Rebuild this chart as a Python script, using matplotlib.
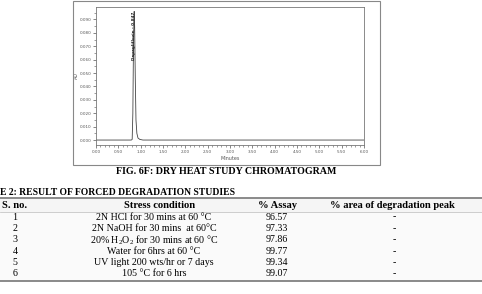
import matplotlib
matplotlib.use("Agg")
import matplotlib.pyplot as plt
from matplotlib.lines import Line2D
from matplotlib.patches import Rectangle
from matplotlib.ticker import MultipleLocator

plt.rcParams['font.family'] = ['Liberation Serif', 'DejaVu Serif']
plt.rcParams['mathtext.fontset'] = 'custom'
plt.rcParams['mathtext.rm'] = 'Liberation Serif'
plt.rcParams['mathtext.it'] = 'Liberation Serif:italic'

# chromatogram trace (minutes, AU)
time_min = [0.0, 0.50, 0.79, 0.81, 0.825, 0.84, 0.855, 0.865, 0.88, 0.895, 0.915, 0.94, 0.98, 1.05, 2.0, 4.0, 6.0]
absorb_au = [0.0, 0.0, 0.0, 0.0005, 0.02, 0.075, 0.096, 0.085, 0.045, 0.015, 0.005, 0.0015, 0.0005, 0.0, 0.0, 0.0, 0.0]
peak_rt = 0.855
peak_label = "Dapagliflozin - 0.847"

# table 2
sno = ["1", "2", "3", "4", "5", "6"]
conditions = ["2N HCl for 30 mins at 60 °C",
              "2N NaOH for 30 mins  at 60°C",
              "20% H$_2$O$_2$ for 30 mins at 60 °C",
              "Water for 6hrs at 60 °C",
              "UV light 200 wts/hr or 7 days",
              "105 °C for 6 hrs"]
assay = ["96.57", "97.33", "97.86", "99.77", "99.34", "99.07"]
degradation = ["-", "-", "-", "-", "-", "-"]
headers = ["S. no.", "Stress condition", "% Assay", "% area of degradation peak"]

W, H = 482, 294
fig = plt.figure(figsize=(W / 100, H / 100), dpi=100)

def fx(px):
    return px / W

def fy(py):
    return 1 - py / H

# outer frame of the figure panel
fig.patches.append(Rectangle((fx(73), fy(165)), fx(380) - fx(73), fy(0.5) - fy(165),
                             transform=fig.transFigure, fill=False, edgecolor='#888888', lw=0.8))

ax = fig.add_axes([fx(96), fy(145), fx(364) - fx(96), fy(7) - fy(145)])
ax.plot(time_min, absorb_au, color='#444444', lw=0.6)
ax.set_xlim(0, 6.0)
ax.set_ylim(-0.0037, 0.0993)
ax.xaxis.set_major_locator(MultipleLocator(0.5))
ax.xaxis.set_minor_locator(MultipleLocator(0.1))
ax.yaxis.set_minor_locator(MultipleLocator(0.005))
ax.set_xticks([i * 0.5 for i in range(13)])
ax.set_xticklabels([f"{i * 0.5:.2f}" for i in range(13)])
ax.set_yticks([i * 0.01 for i in range(10)])
ax.set_yticklabels([f"{i * 0.01:.3f}" for i in range(10)])
ax.tick_params(labelsize=3, colors='#555555', length=2, width=0.5, pad=1.5)
ax.tick_params(which='minor', length=1.2, width=0.4, colors='#555555')
for s in ax.spines.values():
    s.set_color('#777777')
    s.set_linewidth(0.6)
ax.set_xlabel("Minutes", fontsize=3.5, color='#555555', labelpad=1.5, family='DejaVu Sans')
ax.set_ylabel("AU", fontsize=3.5, color='#555555', labelpad=0, family='DejaVu Sans')
for lab in ax.get_xticklabels() + ax.get_yticklabels():
    lab.set_family('DejaVu Sans')
ax.text(peak_rt, 0.0775, peak_label, rotation=90, fontsize=3.0, color='#222222',
        ha='center', va='center', family='DejaVu Sans', fontweight='bold')

# caption
fig.text(fx(226), fy(172), "FIG. 6F: DRY HEAT STUDY CHROMATOGRAM", ha='center', va='center',
         fontsize=7.2, fontweight='bold')

# table title
fig.text(fx(0), fy(192.5), "E 2: RESULT OF FORCED DEGRADATION STUDIES", ha='left', va='center',
         fontsize=6.9, fontweight='bold')

# table background and rules
fig.patches.append(Rectangle((0, fy(211.5)), 1, fy(198) - fy(211.5), transform=fig.transFigure,
                             facecolor='#f5f5f5', edgecolor='none'))
fig.patches.append(Rectangle((0, fy(280.5)), 1, fy(211.5) - fy(280.5), transform=fig.transFigure,
                             facecolor='#fafafa', edgecolor='none'))
fig.lines.append(Line2D([0, 1], [fy(198), fy(198)], transform=fig.transFigure, color='#777777', lw=1.2))
fig.lines.append(Line2D([0, 1], [fy(211.5), fy(211.5)], transform=fig.transFigure, color='#bbbbbb', lw=0.5))
fig.lines.append(Line2D([0, 1], [fy(280.7), fy(280.7)], transform=fig.transFigure, color='#777777', lw=1.2))

head_x = [15, 160, 277, 392]
for x, h in zip(head_x, headers):
    fig.text(fx(x), fy(205.3), h, ha='center', va='center', fontsize=7.6, fontweight='bold')

col_x = [15, 154, 277, 394]
row_y = [217, 228.3, 240, 251.5, 262.7, 273.7]
for i, y in enumerate(row_y):
    fig.text(fx(col_x[0]), fy(y), sno[i], ha='center', va='center', fontsize=7.2)
    fig.text(fx(col_x[1]), fy(y), conditions[i], ha='center', va='center', fontsize=7.2)
    fig.text(fx(col_x[2]), fy(y), assay[i], ha='center', va='center', fontsize=7.2)
    fig.text(fx(col_x[3]), fy(y), degradation[i], ha='center', va='center', fontsize=7.2)

fig.savefig("out.png", dpi=100)
